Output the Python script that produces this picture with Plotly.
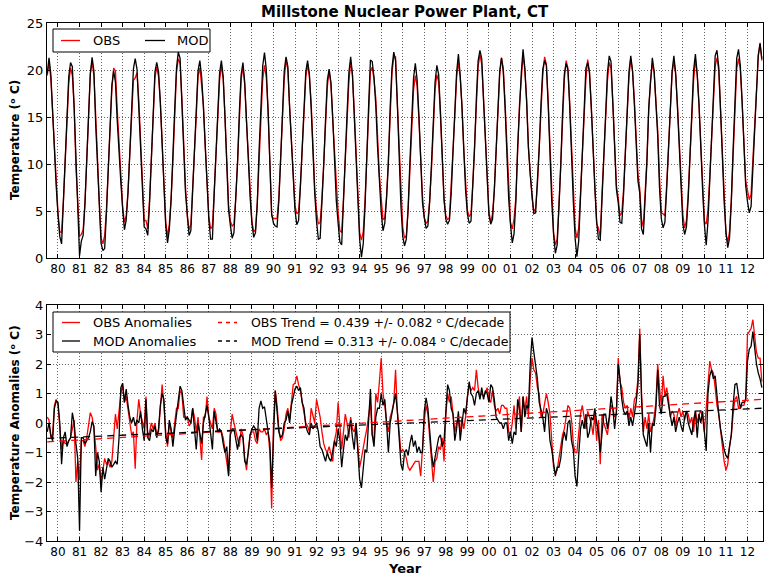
import pandas as pd
import plotly.graph_objects as go

# ---------------- data ----------------
START = "1979-07-01"   # first monthly value (Jul 1979) ... last value Sep 2012

# monthly anomalies, deg C (OBS = red, MOD = black)
OBS_ANOM = [
    0.2, 0.1, -0.5, -0.4, 0.6, 0.8,                                   # 1979 Jul-Dec
    0.6, -0.3, -0.9, -0.6, -0.7, -0.7, -0.6, -0.5, -0.2, 0.1, -2.0, -1.3,   # 1980
    -1.9, -0.6, -0.6, -0.8, -0.5, 0.0, 0.35, 0.2, -0.2, -0.8, -1.6, -1.4,   # 1981
    -2.0, -1.6, -1.2, -1.4, -1.3, -1.5, -1.3, -0.5, 0.3, -0.2, 0.4, 1.0,    # 1982
    1.3, 0.7, 0.9, 0.5, 0.0, -0.4, -0.3, -1.55, 0.1, 0.8, 0.3, 0.0,         # 1983
    -0.2, 0.9, -0.5, -0.3, 0.0, -0.2, 0.0, -0.4, -0.3, 0.5, 1.3, 0.6,       # 1984
    -0.3, -0.8, 0.0, -0.3, -0.5, 0.0, 0.5, 0.5, 1.1, 1.0, 0.2, 0.2,         # 1985
    0.2, -0.1, 0.0, 0.5, 0.2, -0.3, 0.2, -0.5, -1.25, 0.2, 0.2, 0.9,        # 1986
    0.2, 0.0, -0.2, 0.5, 0.3, -0.3, -0.3, -0.3, -0.5, -0.9, -1.2, -1.75,    # 1987
    -0.3, 0.3, 0.0, -0.3, -0.6, -0.8, -0.2, -0.4, -1.2, -1.6, -0.9, -0.4,   # 1988
    -0.3, -0.3, -0.6, -0.7, -0.2, -0.3, -0.3, -0.2, -0.4, -0.3, -1.0, -2.9, # 1989
    0.0, 1.1, 0.6, -0.2, -0.6, -0.5, -0.2, 0.3, 0.5, 0.1, 0.7, 1.3,         # 1990
    1.35, 1.6, 1.3, 1.1, 0.7, 0.4, 0.0, -0.1, -0.3, 0.5, 0.2, 0.0,          # 1991
    0.8, 0.5, 0.2, -0.3, -0.7, -0.9, -1.0, -0.8, -1.1, -1.3, -0.6, -0.3,    # 1992
    0.7, -0.2, -0.9, -0.3, 0.3, 0.0, -0.5, 0.2, -0.2, -0.3, 0.0, -0.8,      # 1993
    -1.5, -1.2, -0.8, -0.5, -0.2, 0.3, 0.7, -0.4, -0.6, 1.0, 0.7, 1.4,      # 1994
    2.2, 1.0, 0.6, 0.0, -0.3, 0.2, 0.4, 0.7, 1.8, 0.4, -0.2, -1.0,          # 1995
    -0.9, -1.0, -1.2, -1.5, -1.6, -1.5, -1.4, -1.3, -1.3, -1.3, -1.8, -0.8, # 1996
    0.1, 0.6, 0.3, -0.5, -1.4, -2.0, -1.3, -1.2, -0.8, -0.9, -0.5, -1.3,    # 1997
    0.3, 1.0, 0.7, 0.9, 0.3, -0.3, 0.0, 0.1, -0.3, 0.2, -0.2, 0.2,          # 1998
    0.9, 1.3, 1.1, 1.2, 1.1, 1.8, 1.2, 0.9, 1.0, 0.9, 1.0, 1.2,             # 1999
    0.8, 0.7, 1.1, 0.6, 0.4, 0.5, 0.3, 0.6, 0.6, 0.5, 0.5, -0.3,            # 2000
    -0.4, 0.0, 0.6, -0.2, 0.4, 0.9, -0.3, 0.9, 0.4, 0.9, 0.2, 1.5,          # 2001
    2.2, 1.8, 1.7, 1.2, 1.0, 0.2, 0.3, 0.7, 1.0, 0.7, 0.3, -0.6,            # 2002
    -1.5, -1.7, -1.6, -1.2, -0.8, -0.4, -0.2, 0.3, 0.6, 0.5, 0.1, -0.7,     # 2003
    -1.0, -1.0, -0.4, 0.3, 0.6, 0.2, -0.2, 0.4, 0.2, 0.0, -0.4, 0.3,        # 2004
    -0.6, 0.1, -1.4, 0.3, 0.0, -0.2, -0.4, 0.1, 0.6, 0.5, 0.2, 0.3,         # 2005
    2.2, 1.4, 1.2, 0.7, 0.5, 0.6, 0.1, 0.5, 0.2, 0.8, 0.9, 1.5,             # 2006
    3.2, 1.0, -0.3, 0.2, -0.2, 0.3, -0.3, -0.1, 0.2, 0.7, 2.0, 1.2,         # 2007
    0.6, 1.6, 0.9, 1.2, 0.8, 0.2, 0.4, 0.3, -0.1, 0.3, 0.5, 0.2,            # 2008
    0.4, 0.1, 0.4, 0.3, 0.0, 0.2, -0.3, 0.4, 0.0, 0.3, 0.4, 0.2,            # 2009
    -0.3, 0.5, 1.5, 2.1, 1.8, 1.7, 1.2, 0.6, 0.3, -0.3, -0.8, -1.3,         # 2010
    -1.6, -1.4, -0.8, -0.4, 0.3, 0.8, 0.9, 0.5, 0.5, 0.6, 0.6, 0.8,         # 2011
    3.0, 3.1, 3.2, 3.5, 3.0, 2.4, 2.2, 2.2, 1.4,                            # 2012 Jan-Sep
]
MOD_ANOM = [
    -0.3, 0.0, -0.4, -0.6, 0.5, 0.75,                                 # 1979 Jul-Dec
    0.7, 0.0, -1.4, -0.5, -0.3, -0.8, -0.6, -0.5, 0.35, 0.0, -0.7, -1.2,    # 1980
    -3.65, -0.5, -0.5, -0.7, -0.6, -0.5, -0.3, 0.05, -0.1, -1.8, -1.0, -1.3,# 1981
    -2.35, -1.5, -1.9, -1.5, -1.2, -1.3, -1.5, -1.4, -1.3, -1.4, -0.5, 1.2, # 1982
    1.35, 0.7, 1.15, 0.6, 0.2, 0.0, 0.2, -0.1, 0.1, 0.0, 0.4, -0.2,         # 1983
    -0.6, 0.8, -0.5, -0.6, -0.2, -0.3, -0.1, -0.5, -0.2, 0.6, 1.0, 0.8,     # 1984
    -0.5, -0.7, 0.1, -0.2, -0.8, -0.2, 0.3, 0.6, 1.25, 1.1, 0.5, 0.1,       # 1985
    0.2, 0.1, 0.0, 0.5, -0.1, -0.9, 0.0, -0.3, -0.7, 0.0, 0.3, 0.6,         # 1986
    0.2, -0.3, -0.9, 0.4, 0.0, -0.3, -0.2, -0.3, -0.7, -1.0, -0.8, -1.8,    # 1987
    -0.4, -0.2, -0.2, -0.6, -0.9, -0.5, -0.4, -0.5, -1.3, -1.4, -1.0, -0.4, # 1988
    -0.2, -0.1, -0.2, -0.6, 0.5, 0.75, 0.5, 0.55, 0.1, -0.3, -0.7, -2.2,    # 1989
    -0.2, 1.1, 0.4, -0.3, -0.5, -0.4, 0.0, 0.1, 0.4, 0.0, 0.6, 0.9,         # 1990
    1.15, 1.25, 1.1, 1.2, 0.7, 0.5, -0.1, -0.3, -0.4, 0.0, -0.2, -0.1,      # 1991
    0.0, -0.3, -0.8, -0.9, -1.1, -1.3, -1.0, -1.2, -1.3, -1.0, -0.6, -0.8,  # 1992
    -0.2, -0.6, -1.5, -0.9, -0.4, -0.6, -0.2, 0.1, -0.5, -0.9, 0.0, -0.9,   # 1993
    -1.9, -2.2, -1.4, -0.9, -1.0, 0.2, 1.15, -0.4, -0.8, 0.2, 0.5, 0.5,     # 1994
    1.0, 0.6, 0.8, 0.0, -1.0, 0.0, 0.3, 0.6, 1.0, 0.4, -0.5, -1.4,          # 1995
    -1.6, -1.0, -0.9, -1.1, -0.7, -0.4, -0.8, -0.6, -1.0, -0.8, -1.0, -1.0, # 1996
    0.4, 0.85, 0.5, -0.4, -1.0, -1.5, -1.2, -0.8, -0.5, -0.4, -0.8, -0.6,   # 1997
    0.2, 1.3, 1.1, 0.5, 0.3, -0.6, -0.2, 0.4, -0.6, 0.0, 0.5, 0.3,          # 1998
    0.8, 1.4, 1.0, 0.9, 0.6, 1.0, 1.1, 0.8, 1.2, 0.8, 1.1, 1.0,             # 1999
    0.7, 1.3, 1.2, 0.8, 0.2, 0.1, 0.0, 0.0, -0.2, 0.0, 0.0, -0.6,           # 2000
    -0.3, -0.7, -0.3, -0.4, 0.8, 0.5, -0.3, 0.9, 0.2, 0.6, 0.5, 2.0,        # 2001
    2.9, 2.4, 1.9, 1.5, 0.7, 0.4, 0.2, -0.3, 0.5, 0.3, -0.6, -0.9,          # 2002
    -1.4, -1.8, -1.5, -1.5, -1.2, -0.6, -0.3, -0.6, 0.0, 0.1, -0.6, -0.9,   # 2003
    -1.8, -2.15, -1.1, -0.2, 0.1, -0.2, 0.3, -0.5, -0.3, 0.2, 0.1, 0.5,     # 2004
    0.0, -0.3, -1.0, -0.2, 0.3, 0.3, -0.2, 0.2, 0.9, 0.5, -0.2, 0.4,        # 2005
    2.0, 1.5, 0.8, 0.4, 0.3, 0.4, -0.1, 0.2, -0.1, 0.3, 0.7, 1.3,           # 2006
    3.0, 0.8, -0.4, -0.6, -0.8, 0.0, -1.0, 0.0, -0.1, 0.5, 1.8, 0.6,        # 2007
    0.3, 0.9, 0.9, 1.0, 0.6, 0.2, -0.1, 0.2, -0.3, 0.0, 0.2, -0.1,          # 2008
    -0.3, 0.2, 0.4, 0.0, -0.2, -0.4, 0.1, 0.4, -0.5, 0.3, 0.0, 0.4,         # 2009
    -0.3, -0.95, 1.0, 1.6, 1.8, 1.5, 1.6, 0.8, 0.3, -0.2, -0.6, -0.9,       # 2010
    -1.1, -1.2, -0.8, -0.4, 0.6, 1.3, 1.35, 0.9, 0.5, 0.7, 0.7, 0.8,        # 2011
    2.1, 2.5, 2.6, 3.1, 2.5, 2.0, 1.7, 1.5, 1.2,                            # 2012 Jan-Sep
]

# monthly climatology (Jan..Dec), deg C: temperature = climatology + anomaly
OBS_CLIM = [4.2, 3.1, 3.6, 6.6, 10.8, 15.4, 19.2, 20.7, 19.6, 16.0, 11.6, 7.4]
MOD_CLIM = [3.9, 2.3, 2.9, 6.4, 11.0, 16.0, 19.9, 21.3, 20.0, 16.0, 11.2, 6.9]

# linear trends: value at first and last month
OBS_TREND = [-0.64, 0.80]
MOD_TREND = [-0.52, 0.50]

TICK_YEARS = list(range(1980, 2013))
TICK_LABELS = ["%02d" % (y % 100) for y in TICK_YEARS]

DEG = "\u1d52"  # raised small o, as in the reference's "o C"
TITLE = "Millstone Nuclear Power Plant, CT"
YLABEL_TOP = "Temperature (" + DEG + " C)"
YLABEL_BOT = "Temperature Anomalies (" + DEG + " C)"
OBS_TREND_LABEL = "OBS Trend = 0.439 +/- 0.082 " + DEG + " C/decade"
MOD_TREND_LABEL = "MOD Trend = 0.313 +/- 0.084 " + DEG + " C/decade"

# ---------------- derived ----------------
dates = pd.date_range(START, periods=len(OBS_ANOM), freq="MS")
t = [d.year + (d.month - 1) / 12.0 for d in dates]
obs_temp = [OBS_CLIM[d.month - 1] + a for d, a in zip(dates, OBS_ANOM)]
mod_temp = [MOD_CLIM[d.month - 1] + a for d, a in zip(dates, MOD_ANOM)]

# ---------------- layout geometry (pixels) ----------------
W, H = 764, 577
ML, MR, MT, MB = 47, 1, 23, 36
PW, PH = W - ML - MR, H - MT - MB


def fx(px):
    return (px - ML) / PW


def fy(py):
    return (H - MB - py) / PH


FONT = "DejaVu Sans"
RED, BLACK = "#ff0000", "#000000"
LW = 1.3

fig = go.Figure()
fig.add_trace(go.Scatter(x=t, y=obs_temp, mode="lines", line=dict(color=RED, width=LW),
                         xaxis="x", yaxis="y", showlegend=False))
fig.add_trace(go.Scatter(x=t, y=mod_temp, mode="lines", line=dict(color=BLACK, width=LW),
                         xaxis="x", yaxis="y", showlegend=False))
fig.add_trace(go.Scatter(x=t, y=OBS_ANOM, mode="lines", line=dict(color=RED, width=LW),
                         xaxis="x2", yaxis="y2", showlegend=False))
fig.add_trace(go.Scatter(x=t, y=MOD_ANOM, mode="lines", line=dict(color=BLACK, width=LW),
                         xaxis="x2", yaxis="y2", showlegend=False))
fig.add_trace(go.Scatter(x=[t[0], t[-1]], y=OBS_TREND, mode="lines",
                         line=dict(color=RED, width=LW, dash="7px,5px"),
                         xaxis="x2", yaxis="y2", showlegend=False))
fig.add_trace(go.Scatter(x=[t[0], t[-1]], y=MOD_TREND, mode="lines",
                         line=dict(color=BLACK, width=LW, dash="7px,5px"),
                         xaxis="x2", yaxis="y2", showlegend=False))

grid = dict(showgrid=True, gridcolor="rgba(0,0,0,0.6)", gridwidth=1, griddash="1px,2px")
frame = dict(showline=True, linecolor="black", linewidth=1, mirror="ticks",
             ticks="inside", ticklen=4, tickcolor="black", tickwidth=1, zeroline=False)
xcommon = dict(range=[1979.49, 2012.72], tickmode="array", tickvals=TICK_YEARS,
               ticktext=TICK_LABELS, tickfont=dict(family=FONT, size=12, color="black"),
               **grid, **frame)
ycommon = dict(tickfont=dict(family=FONT, size=13, color="black"), **grid, **frame)

fig.update_layout(
    width=W, height=H, margin=dict(l=ML, r=MR, t=MT, b=MB),
    paper_bgcolor="white", plot_bgcolor="white", showlegend=False,
    font=dict(family=FONT, color="black"),
    xaxis=dict(domain=[0, 1], anchor="y", **xcommon),
    yaxis=dict(domain=[fy(258), fy(23)], anchor="x", range=[0, 25], dtick=5, tick0=0, **ycommon),
    xaxis2=dict(domain=[0, 1], anchor="y2", **xcommon),
    yaxis2=dict(domain=[fy(541), fy(305)], anchor="x2", range=[-4, 4], dtick=1, tick0=0, **ycommon),
)

ann = []
shapes = []


def text(x, y, s, size=12, bold=False, xanchor="left", angle=0):
    ann.append(dict(x=fx(x), y=fy(y), xref="paper", yref="paper", text=("<b>%s</b>" % s) if bold else s,
                    showarrow=False, xanchor=xanchor, yanchor="middle", textangle=angle,
                    font=dict(family=FONT, size=size, color="black")))


def seg(x0, x1, y, color, dash="solid"):
    shapes.append(dict(type="line", xref="paper", yref="paper", x0=fx(x0), x1=fx(x1), y0=fy(y), y1=fy(y),
                       line=dict(color=color, width=LW, dash=dash), layer="above"))


def box(x0, y0, x1, y1):
    shapes.append(dict(type="rect", xref="paper", yref="paper", x0=fx(x0), x1=fx(x1), y0=fy(y1), y1=fy(y0),
                       line=dict(color="black", width=1), fillcolor="white", layer="above"))


# title and axis titles
text(405, 12, TITLE, size=15, bold=True, xanchor="center")
text(15, 140, YLABEL_TOP, size=12, bold=True, xanchor="center", angle=-90)
text(15, 423, YLABEL_BOT, size=12, bold=True, xanchor="center", angle=-90)
text(405, 568, "Year", size=13, bold=True, xanchor="center")

# top legend
box(53, 29, 210, 52)
seg(61, 80, 40.5, RED)
text(91, 40.5, "OBS", size=13)
seg(145, 165, 40.5, BLACK)
text(175, 40.5, "MOD", size=13)

# bottom legend
box(53, 312, 510, 352)
seg(62, 80, 322.5, RED)
text(91, 322.5, "OBS Anomalies", size=13)
seg(62, 80, 341, BLACK)
text(91, 341, "MOD Anomalies", size=13)
seg(218, 237, 322.5, RED, "4px,4px")
text(249, 322.5, OBS_TREND_LABEL, size=12.5)
seg(218, 237, 341, BLACK, "4px,4px")
text(249, 341, MOD_TREND_LABEL, size=12.5)

fig.update_layout(annotations=ann, shapes=shapes)
fig.write_html("out.html")
